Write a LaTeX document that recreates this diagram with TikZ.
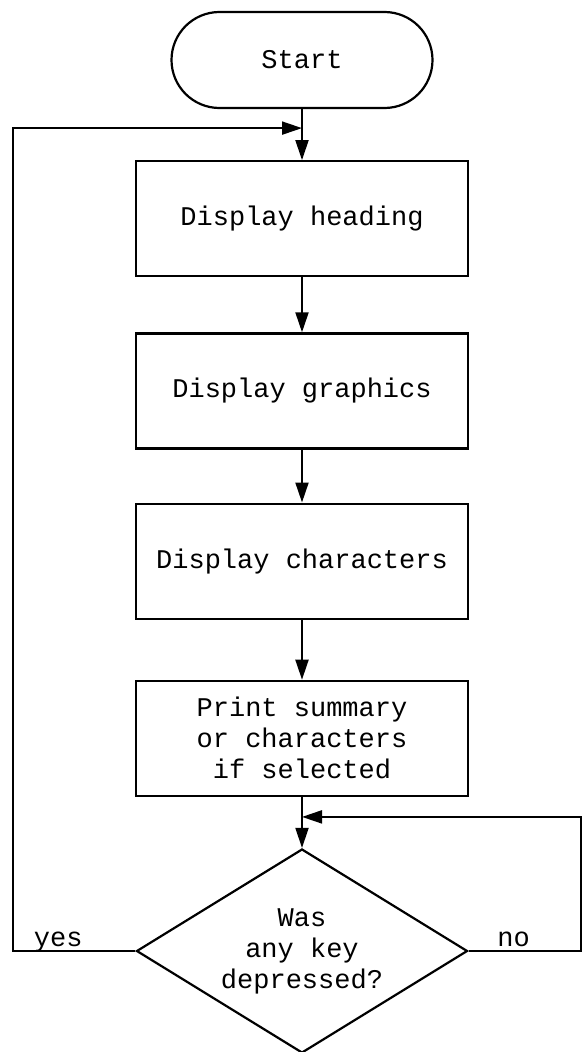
\documentclass[tikz,border=0pt]{standalone}
\usepackage{fontspec}
\setmonofont{Liberation Mono}
\usetikzlibrary{arrows.meta, shapes.geometric, positioning}

\begin{document}
\begin{tikzpicture}[
    node distance=55pt,
    every node/.style={font=\ttfamily\fontsize{27}{31}\selectfont},
    terminal/.style={rectangle, draw, rounded corners=48pt, minimum height=96pt,
                     minimum width=261pt, line width=2.2pt},
    block/.style={rectangle, draw, minimum height=115pt,
                  minimum width=332pt, align=center, line width=2.2pt},
    decision/.style={diamond, draw, aspect=1.62, inner sep=0pt, minimum width=331pt,
                     minimum height=204pt, align=center, line width=2.2pt},
    flow/.style={line width=2pt},
    arrow/.style={-{Triangle[length=20pt, width=13pt]}, line width=2pt},
    answer/.style={anchor=base, yshift=5pt, inner sep=0pt}
]
    \useasboundingbox (0pt,0pt) rectangle (583pt,-1052pt);

    \node[terminal] (start) at (302pt,-60pt) {Start};
    \node[block, below=51pt of start] (heading) {Display heading};
    \node[block, below=55pt of heading] (graphics) {Display graphics};
    \node[block, below=53pt of graphics] (chars) {Display characters};
    \node[block, below=60pt of chars] (summary)
      {Print summary\\or characters\\if selected};
    \node[decision, below=51pt of summary] (keytest)
      {Was\\any key\\depressed?};

    % joins where the loops come back
    \coordinate[above=32pt of heading.north] (topjoin);
    \coordinate[above=31pt of keytest.north] (bottomjoin);
    \coordinate (leftrail) at (13pt,0pt);
    \coordinate (rightrail) at (581pt,0pt);

    \draw[flow] (start) -- (topjoin);
    \draw[arrow] (topjoin) -- (heading);
    \draw[arrow] (heading) -- (graphics);
    \draw[arrow] (graphics) -- (chars);
    \draw[arrow] (chars) -- (summary);
    \draw[flow] (summary) -- (bottomjoin);
    \draw[arrow] (bottomjoin) -- (keytest);

    \draw[arrow] (keytest.west) -- node[answer, pos=0.63] {yes}
      (keytest.west -| leftrail) |- (topjoin);
    \draw[arrow] (keytest.east) -- node[answer, pos=0.4] {no}
      (keytest.east -| rightrail) |- (bottomjoin);
\end{tikzpicture}
\end{document}
